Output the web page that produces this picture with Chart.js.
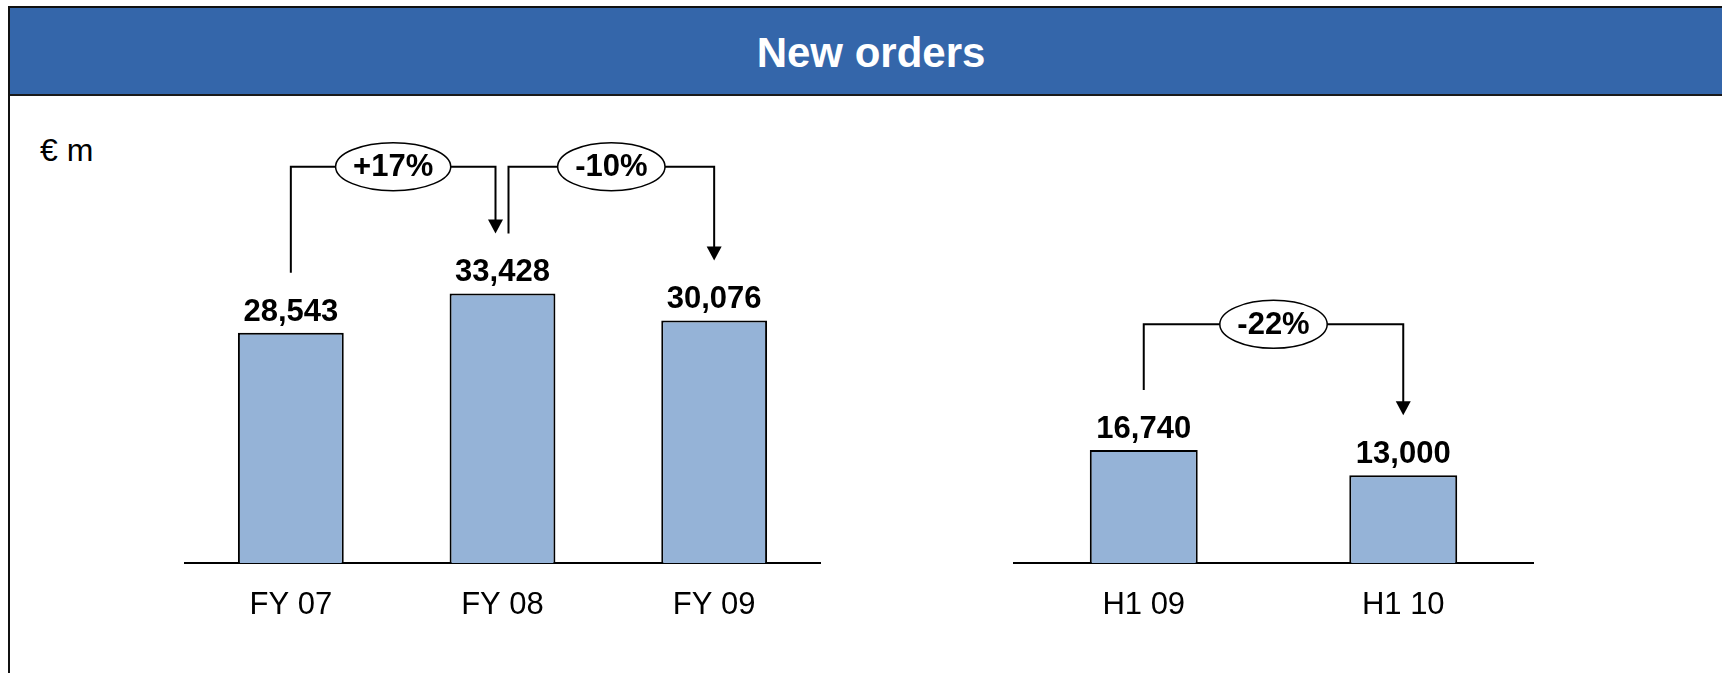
<!DOCTYPE html>
<html>
<head>
<meta charset="utf-8">
<script src="https://cdn.jsdelivr.net/npm/chart.js@4.4.0/dist/chart.umd.min.js"></script>
<style>
  html, body { margin: 0; padding: 0; background: #fff; }
  body { width: 1722px; height: 673px; overflow: hidden; position: relative; font-family: "Liberation Sans", Arial, sans-serif; }
  #frame { position: absolute; left: 8px; top: 6px; width: 1730px; height: 700px; border-left: 2px solid #111; border-top: 2px solid #111; }
  #head { position: absolute; left: 10px; top: 8px; width: 1702px; padding-left: 10px; height: 86px; background: #3466aa;
          border-bottom: 2px solid #1a1a1a; color: #fff; font-weight: bold; font-size: 42px; line-height: 90px; text-align: center; }
  #unit { position: absolute; left: 40px; top: 132px; font-size: 32px; color: #000; }
  canvas { position: absolute; }
  #left { left: 0; top: 100px; }
  #right { left: 870px; top: 100px; }
</style>
</head>
<body>
<div id="frame"></div>
<div id="head">New orders</div>
<div id="unit">€ m</div>
<canvas id="left" width="860" height="573"></canvas>
<canvas id="right" width="852" height="573"></canvas>
<script>
// full year figures
var fyLabels = ["FY 07", "FY 08", "FY 09"];
var fyValues = [28543, 33428, 30076];
var fyChanges = ["+17%", "-10%"];

// half year figures
var h1Labels = ["H1 09", "H1 10"];
var h1Values = [16740, 13000];
var h1Changes = ["-22%"];

var FONT = "'Liberation Sans', Arial, sans-serif";
var barFill = "#95b3d7";

// value labels above bars + bracket arrows between bars
var barExtras = {
  id: "barExtras",
  afterDatasetsDraw: function (chart, args, opts) {
    var ctx = chart.ctx;
    var meta = chart.getDatasetMeta(0);
    var ys = chart.scales.y;
    ctx.save();
    ctx.fillStyle = "#000";
    ctx.textAlign = "center";
    ctx.textBaseline = "alphabetic";
    ctx.font = "bold 31px " + FONT;
    meta.data.forEach(function (bar, i) {
      var v = chart.data.datasets[0].data[i];
      ctx.fillText(v.toLocaleString("en-US"), bar.x, bar.y - 12);
    });

    ctx.strokeStyle = "#000";
    ctx.lineWidth = 2;
    opts.brackets.forEach(function (b) {
      var a = meta.data[b.from], c = meta.data[b.to];
      var x1 = a.x + (b.dx1 || 0), x2 = c.x + (b.dx2 || 0);
      var y1 = a.y - 60, y2 = c.y - 60;
      var yl = ys.getPixelForValue(b.level);
      var cx = (x1 + x2) / 2;
      var tw = ctx.measureText(b.text).width;
      var rx = tw / 2 + 17.5;

      ctx.beginPath();
      ctx.moveTo(x1, y1);
      ctx.lineTo(x1, yl);
      ctx.lineTo(x2, yl);
      ctx.lineTo(x2, y2 - 13);
      ctx.stroke();

      ctx.beginPath();
      ctx.moveTo(x2, y2);
      ctx.lineTo(x2 - 7.5, y2 - 14);
      ctx.lineTo(x2 + 7.5, y2 - 14);
      ctx.closePath();
      ctx.fillStyle = "#000";
      ctx.fill();

      ctx.beginPath();
      ctx.ellipse(cx, yl, rx, 24, 0, 0, Math.PI * 2);
      ctx.fillStyle = "#fff";
      ctx.fill();
      ctx.lineWidth = 1.5;
      ctx.stroke();
      ctx.lineWidth = 2;

      ctx.fillStyle = "#000";
      ctx.textBaseline = "middle";
      ctx.fillText(b.text, cx, yl + 1);
      ctx.textBaseline = "alphabetic";
    });
    ctx.restore();
  }
};

function makeChart(id, labels, values, yMax, barPct, pad, brackets) {
  return new Chart(id, {
    type: "bar",
    data: {
      labels: labels,
      datasets: [{
        data: values,
        backgroundColor: barFill,
        borderColor: "#000",
        borderWidth: 2,
        barPercentage: barPct,
        categoryPercentage: 1.0
      }]
    },
    options: {
      responsive: false,
      animation: false,
      devicePixelRatio: 1,
      layout: { padding: pad },
      plugins: {
        legend: { display: false },
        tooltip: { enabled: false },
        barExtras: { brackets: brackets }
      },
      scales: {
        x: {
          grid: { display: false, drawTicks: false },
          border: { display: true, color: "#000", width: 2 },
          ticks: { color: "#000", padding: 24, font: { size: 31, family: FONT } },
          afterFit: function (s) { s.height = 70; }
        },
        y: { display: false, min: 0, max: yMax }
      }
    },
    plugins: [barExtras]
  });
}

makeChart("left", fyLabels, fyValues, 53700, 0.5,
  { left: 185, right: 40, top: 30, bottom: 40 },
  [
    { from: 0, to: 1, text: fyChanges[0], level: 49150, dx2: -7 },
    { from: 1, to: 2, text: fyChanges[1], level: 49150, dx1: 6 }
  ]);

makeChart("right", h1Labels, h1Values, 64200, 0.416,
  { left: 144, right: 189, top: 30, bottom: 40 },
  [
    { from: 0, to: 1, text: h1Changes[0], level: 35390 }
  ]);
</script>
</body>
</html>
